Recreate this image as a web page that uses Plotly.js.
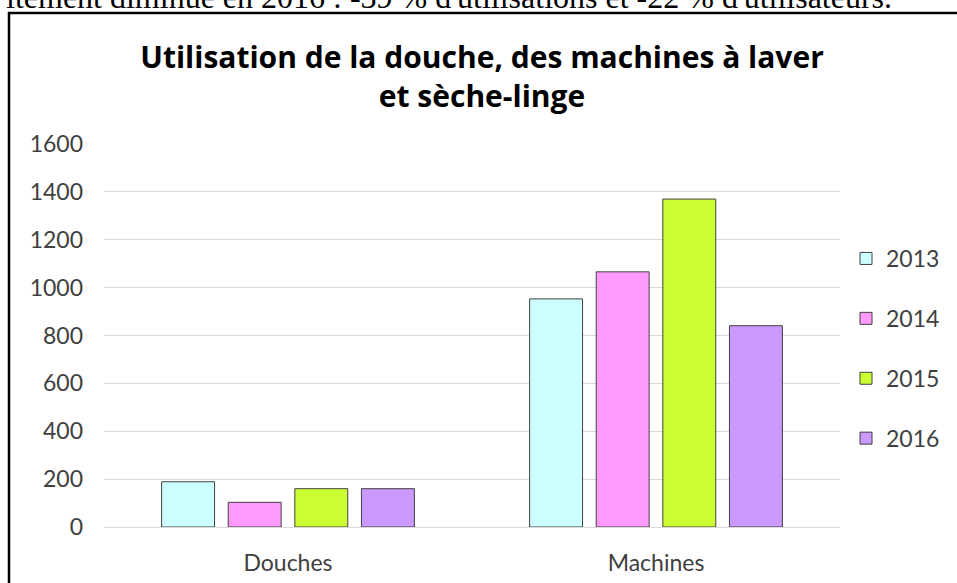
<!DOCTYPE html>
<html>
<head>
<meta charset="utf-8">
<script src="https://cdn.plot.ly/plotly-3.0.1.min.js"></script>
<style>html,body{margin:0;padding:0;background:#fff;}#chart{width:957px;height:583px;}</style>
</head>
<body>
<div id="chart"></div>
<script>
const categories = ["Douches", "Machines"];
const years = ["2013", "2014", "2015", "2016"];
const v2013 = [189, 953];
const v2014 = [103, 1066];
const v2015 = [160, 1370];
const v2016 = [160, 841];
const yTicks = [0, 200, 400, 600, 800, 1000, 1200, 1400, 1600];
const colors = ["#CCFFFF", "#FF99FF", "#CCFF33", "#CC99FF"];
const series = [v2013, v2014, v2015, v2016];

const W = 957, H = 583;
const M = {l: 104, r: 117, t: 144, b: 56};
const pw = W - M.l - M.r, ph = H - M.t - M.b;
const px2x = p => (p - M.l) / pw;
const py2y = p => (H - M.b - p) / ph;

const traces = series.map((vals, i) => ({
  type: "bar",
  name: years[i],
  x: categories,
  y: vals,
  legendgroup: years[i],
  marker: {color: colors[i], line: {color: "#404040", width: 1}},
  hoverinfo: "x+y+name"
}));

const layout = {
  width: W, height: H,
  margin: M,
  paper_bgcolor: "#ffffff",
  plot_bgcolor: "#ffffff",
  font: {family: "Lato, 'Open Sans', sans-serif", color: "#404040", size: 23},
  barmode: "group",
  bargap: 0.276,
  bargroupgap: 0.205,
  title: {
    text: "Utilisation de la douche, des machines à laver<br>et sèche-linge",
    font: {family: "'Open Sans', Lato, sans-serif", size: 30, color: "#000000", weight: "bold"},
    xref: "container", x: 482 / W, xanchor: "center",
    yref: "container", y: 1 - 68 / H, yanchor: "top"
  },
  xaxis: {
    type: "category",
    showgrid: false, showline: false, zeroline: false,
    ticks: "", ticklabelstandoff: 20,
    tickfont: {size: 23, color: "#404040"}
  },
  yaxis: {
    range: [0, 1600],
    tickvals: yTicks,
    ticktext: yTicks.map(String),
    showgrid: true, gridcolor: "#d9d9d9", gridwidth: 1,
    zeroline: true, zerolinecolor: "#d9d9d9", zerolinewidth: 1,
    showline: false, ticks: "", ticklabelstandoff: 20,
    tickfont: {size: 23, color: "#404040"}
  },
  legend: {
    x: px2x(846), xanchor: "left",
    y: py2y(237), yanchor: "top",
    traceorder: "grouped",
    tracegroupgap: 27,
    font: {size: 23, color: "#404040"},
    bgcolor: "rgba(0,0,0,0)"
  },
  shapes: [{
    type: "rect", xref: "paper", yref: "paper",
    x0: px2x(9), x1: px2x(1010), y0: py2y(620), y1: py2y(13),
    line: {color: "#000000", width: 2.5}, fillcolor: "rgba(0,0,0,0)", layer: "above"
  }],
  annotations: [{
    text: "itement diminué en 2016 : -39 % d'utilisations et -22 % d'utilisateurs.",
    xref: "paper", yref: "paper",
    x: px2x(894), xanchor: "right",
    y: py2y(-3), yanchor: "middle",
    showarrow: false,
    font: {family: "'Liberation Serif', 'Times New Roman', serif", size: 32, color: "#000000"}
  }]
};

Plotly.newPlot("chart", traces, layout, {displayModeBar: false, staticPlot: true});
</script>
</body>
</html>
